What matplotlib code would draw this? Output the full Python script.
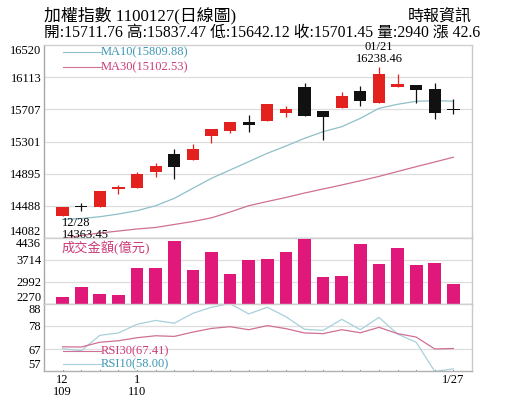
import numpy as np
import matplotlib
matplotlib.use("Agg")
import matplotlib.pyplot as plt

plt.rcParams['font.family'] = ['Liberation Serif', 'Noto Sans CJK TC']

# daily data, 12/28 .. 1/27
dates = ['12/28', '12/29', '12/30', '12/31', '1/4', '1/5', '1/6', '1/7', '1/8', '1/11', '1/12',
         '1/13', '1/14', '1/15', '1/18', '1/19', '1/20', '1/21', '1/22', '1/25', '1/26', '1/27']
opens = [14363.45, 14490, 14477, 14705, 14717, 14912, 15139, 15063, 15366, 15434, 15547,
         15556, 15661, 15989, 15685, 15720, 15935, 15784, 15989, 16013, 15961, 15711.76]
highs = [14470, 14528, 14680, 14752, 14920, 15033, 15203, 15265, 15459, 15551, 15636,
         15771, 15750, 16044, 15685, 15930, 16006, 16238.46, 16150, 16013, 16037, 15837.47]
lows = [14363.45, 14427, 14477, 14638, 14717, 14856, 14831, 15063, 15278, 15412, 15417,
        15556, 15614, 15619, 15320, 15720, 15746, 15784, 15989, 15784, 15589, 15642.12]
closes = [14470, 14475, 14676, 14730, 14890, 14991, 14979, 15206, 15459, 15551, 15506,
          15771, 15708, 15619, 15614, 15876, 15813, 16158, 16027, 15952, 15658.85, 15701.45]
ma10 = [14318, 14328, 14351, 14385, 14427, 14490, 14583, 14710, 14836, 14941, 15046,
        15152, 15244, 15341, 15425, 15488, 15594, 15720, 15771, 15809, 15817, 15809.88]
ma30 = [14075, 14114, 14145, 14170, 14196, 14215, 14253, 14290, 14337, 14410, 14490,
        14543, 14594, 14650, 14701, 14752, 14805, 14860, 14922, 14983, 15042, 15102.53]
volume = [2490, 2838, 2598, 2565, 3451, 3461, 4337, 3385, 3966, 3264, 3703,
          3756, 3985, 4403, 3146, 3188, 4248, 3592, 4097, 3549, 3615, 2940]
rsi30 = [68.2, 68.1, 70.3, 71.0, 72.4, 73.3, 73.0, 75.0, 76.7, 77.5, 76.1,
         78.0, 76.6, 74.6, 74.3, 76.1, 74.7, 77.2, 74.3, 72.7, 67.2, 67.41]
rsi10 = [67.3, 66.4, 73.5, 74.6, 78.6, 80.4, 79.1, 83.7, 86.5, 88.2, 83.4,
         86.5, 82.1, 76.3, 75.8, 80.9, 76.1, 81.8, 74.1, 70.3, 56.8, 58.00]

price_ticks = [14082, 14488, 14895, 15301, 15707, 16113, 16520]
vol_ticks = [2270, 2992, 3714, 4436]
rsi_ticks = [57, 67, 78, 88]

RED = '#e3211f'
BLACK = '#111111'
PINK = '#e0187a'
MA10_C = '#8fbfc8'
MA30_C = '#cf7094'
RSI10_C = '#a8d0dc'
GRID = '#dedede'
FRAME = '#a8a8a8'

W, H = 515, 413
fig = plt.figure(figsize=(W / 100, H / 100), dpi=100)


def box(top, bottom, left=44, right=472):
    return [left / W, 1 - bottom / H, (right - left) / W, (bottom - top) / H]


def style(ax, ticks, lim):
    ax.set_xlim(-1.0, 22.0)
    ax.set_ylim(*lim)
    ax.set_yticks(ticks)
    ax.set_yticklabels([str(t) for t in ticks], fontsize=9)
    tl = ax.get_yticklabels()
    tl[0].set_va('bottom')
    tl[-1].set_va('top')
    ax.tick_params(axis='y', length=0, pad=2)
    ax.set_xticks([])
    for t in ticks[1:-1]:
        ax.axhline(t, color=GRID, lw=0.9, zorder=0)
    for s in ax.spines.values():
        s.set_color(FRAME)
        s.set_linewidth(1.0)
    ax.spines['top'].set_color('#d0d0d0')
    ax.spines['right'].set_color('#c8c8c8')
    ax.spines['bottom'].set_color('#b0b0b0')


x = np.arange(len(dates))

# ---- price panel
ax = fig.add_axes(box(45, 238))
style(ax, price_ticks, (14082, 16520))
ax.plot(x, ma10, color=MA10_C, lw=0.9, zorder=2)
ax.plot(x, ma30, color=MA30_C, lw=0.9, zorder=2)
for i in x:
    o, h, l, c = opens[i], highs[i], lows[i], closes[i]
    col = RED if c > o else BLACK
    ax.vlines(i, l, h, color=col, lw=0.9, zorder=3)
    body = max(abs(c - o), 8)
    ax.bar(i, body, bottom=min(o, c), width=0.66, color=col, zorder=4)

ax.text(17, 16262, '01/21\n16238.46', ha='center', va='bottom', fontsize=9,
        linespacing=1.0)
ax.text(-0.05, 14200, '12/28\n14363.45', ha='left', va='center', fontsize=9,
        linespacing=1.0)

# legend for moving averages
ppx = 2438 / 193  # price units per pixel
ax.plot([0, 2.05], [16520 - 7 * ppx] * 2, color=MA10_C, lw=0.8)
ax.plot([0, 2.05], [16520 - 22 * ppx] * 2, color=MA30_C, lw=0.8)
ax.text(2.05, 16520 - 7 * ppx, 'MA10(15809.88)', color='#3d97b3', fontsize=9, va='center')
ax.text(2.05, 16520 - 22 * ppx, 'MA30(15102.53)', color='#cc3a78', fontsize=9, va='center')

# ---- volume panel
axv = fig.add_axes(box(238, 304))
style(axv, vol_ticks, (2270, 4436))
axv.bar(x, [v - 2270 for v in volume], bottom=2270, width=0.68, color=PINK, zorder=3)
axv.text(-0.05, 4436 - 10 * 32.8, '成交金額(億元)', color='#cc3a78', fontsize=9.5,
         va='center', ha='left')

# ---- RSI panel
axr = fig.add_axes(box(304, 371))
style(axr, rsi_ticks, (57, 88))
axr.plot(x, rsi10, color=RSI10_C, lw=0.9, zorder=2)
axr.plot(x, rsi30, color=MA30_C, lw=0.9, zorder=2)
for i in x:
    axr.plot([i, i], [57, 57.6], color='#888888', lw=0.7, clip_on=False)
axr.plot([0, 2.05], [88 - 47 / 2.16] * 2, color=MA30_C, lw=0.8)
axr.plot([0, 2.05], [88 - 60 / 2.16] * 2, color=RSI10_C, lw=0.8)
axr.text(2.05, 88 - 47 / 2.16, 'RSI30(67.41)', color='#cc3a78', fontsize=9, va='center')
axr.text(2.05, 88 - 60 / 2.16, 'RSI10(58.00)', color='#3d97b3', fontsize=9, va='center')

# x labels
axr.text(0, 55.8, '12\n109', ha='center', va='top', fontsize=9, linespacing=1.0)
axr.text(4, 55.8, '1\n110', ha='center', va='top', fontsize=9, linespacing=1.0)
axr.text(21, 55.8, '1/27', ha='center', va='top', fontsize=9)

# ---- header
fig.text(44 / W, 1 - 16 / H, '加權指數 1100127(日線圖)', fontsize=12.2, va='center', ha='left')
fig.text(472 / W, 1 - 17 / H, '時報資訊', fontsize=11.5, va='center', ha='right')
fig.text(44 / W, 1 - 33 / H,
         '開:15711.76 高:15837.47 低:15642.12 收:15701.45 量:2940 漲 42.6',
         fontsize=11.3, va='center', ha='left')

fig.savefig('out.png', dpi=100)
